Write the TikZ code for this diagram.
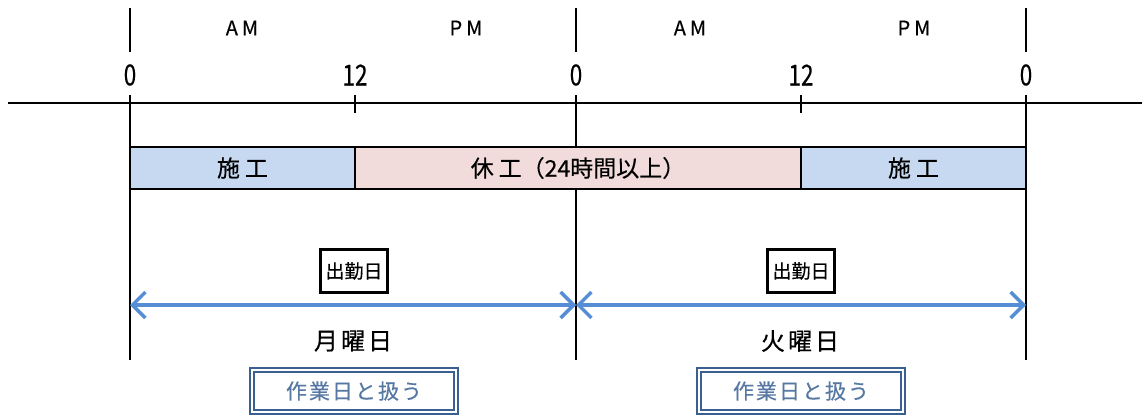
\documentclass[tikz,border=0pt]{standalone}
\usepackage{fontspec}
\setmainfont{Noto Sans CJK JP}[FakeBold=0.4]
\usetikzlibrary{arrows.meta}
\definecolor{workblue}{HTML}{C6D9F0}
\definecolor{restpink}{HTML}{F2DCDB}
\definecolor{spanblue}{HTML}{558ED5}
\definecolor{treatblue}{HTML}{3A6092}
\newcommand{\hournum}[1]{\scalebox{0.78}[1]{#1}}
\begin{document}
\begin{tikzpicture}[x=1pt,y=-1pt,
    seg/.style={draw,line width=2.2pt,minimum height=42pt,inner sep=0pt,font=\fontsize{23}{23}\selectfont},
    dutybox/.style={draw,line width=2.2pt,inner xsep=5pt,minimum height=43pt,font=\fontsize{19}{19}\selectfont},
    treatbox/.style={draw=treatblue,double,double distance=2.4pt,line width=1.8pt,minimum width=204pt,minimum height=42pt,text=treatblue!85,font=\fontsize{21}{21}\selectfont},
    span/.style={spanblue,line width=3.5pt,{Straight Barb[length=13pt,width=26pt,line width=3.5pt]}-{Straight Barb[length=13pt,width=26pt,line width=3.5pt]}}]
    \useasboundingbox (0,0) rectangle (1142,416);
    % day boundaries
    \foreach \x in {130,576,1026} {
        \draw[line width=2.2pt] (\x,8) -- (\x,52);
        \draw[line width=2.2pt] (\x,95) -- (\x,360);
    }
    % time axis
    \draw[line width=2.6pt] (8,103) -- (1142,103);
    \foreach \x in {355,801} \draw[line width=2.2pt] (\x,95) -- (\x,113);
    \foreach \x/\t [count=\i] in {130/0,355/12,576/0,801/12,1026/0}
        \node (t\i) at (\x,75) {\fontsize{29}{29}\selectfont\hournum{\t}};
    \foreach \x/\a/\b [count=\i] in {242/A/M,466/P/M,690/A/M,914/P/M}
        \node[font=\fontsize{20}{20}\selectfont] (half\i) at (\x,28) {\a\hspace{4pt}\b};
    % work / rest bar
    \node[seg,fill=workblue,minimum width=225pt] (work1) at (242.5,168) {施\hspace{5pt}工};
    \node[seg,fill=restpink,minimum width=446pt] (rest) at (578,168) {休\hspace{5pt}工（24時間以上）};
    \node[seg,fill=workblue,minimum width=225pt] (work2) at (913.5,168) {施\hspace{5pt}工};
    % days
    \node[dutybox] (duty1) at (354,271) {出勤日};
    \node[dutybox] (duty2) at (801,271) {出勤日};
    \coordinate (mon) at (130,305);
    \coordinate (tue) at (576,305);
    \coordinate (wed) at (1026,305);
    \draw[span] (mon) -- (tue);
    \draw[span] (tue) -- (wed);
    \node[font=\fontsize{24}{24}\selectfont] (monday) at (353,341) {月\hspace{3pt}曜\hspace{3pt}日};
    \node[font=\fontsize{24}{24}\selectfont] (tuesday) at (800,341) {火\hspace{3pt}曜\hspace{3pt}日};
    \node[treatbox] (treat1) at (354,391) {作\hspace{2pt}業\hspace{2pt}日\hspace{2pt}と\hspace{2pt}扱\hspace{2pt}う};
    \node[treatbox] (treat2) at (801,391) {作\hspace{2pt}業\hspace{2pt}日\hspace{2pt}と\hspace{2pt}扱\hspace{2pt}う};
\end{tikzpicture}
\end{document}
